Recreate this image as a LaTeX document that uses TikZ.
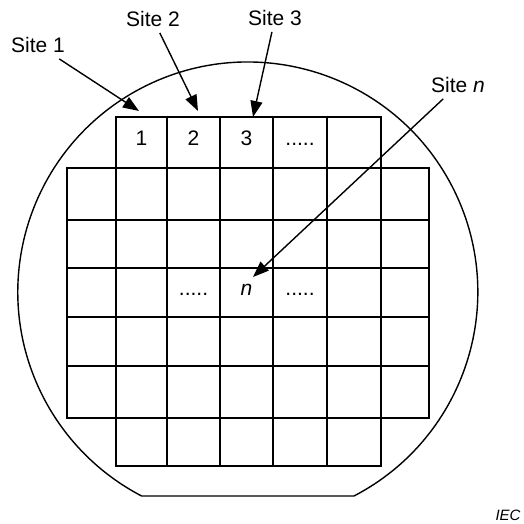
\documentclass[tikz,border=0pt]{standalone}
\usepackage{fontspec}
\setmainfont{Liberation Sans}
\usepackage{tikz}
\usetikzlibrary{arrows.meta}

\begin{document}
\begin{tikzpicture}[x=1pt,y=1pt,
  wafer/.style={line width=1.4pt},
  cell/.style={line width=1.6pt},
  sitelabel/.style={inner sep=6pt,font=\fontsize{21}{25}\selectfont},
  celltext/.style={anchor=base,inner sep=0pt,font=\fontsize{21}{25}\selectfont},
  pointer/.style={line width=1.4pt,-{Triangle[length=16pt,width=12pt]}}]
\useasboundingbox (0,0) rectangle (523,524);

% wafer outline with the flat at the bottom
\draw[wafer] (354,28) arc[start angle=-62.5,end angle=242.5,radius=230] -- cycle;

% die grid
\draw[cell] (116,356) rectangle (381,407);
\draw[cell] (67,106) rectangle (429,356);
\draw[cell] (116,58) rectangle (381,106);
\draw[cell] (67,304) -- (429,304) (67,256) -- (429,256) (67,207) -- (429,207) (67,158) -- (429,158);
\draw[cell] (116,106) -- (116,356) (381,106) -- (381,356);
\draw[cell] (167,58) -- (167,407) (220,58) -- (220,407) (273,58) -- (273,407) (327,58) -- (327,407);

\node[celltext] (c1) at (141.5,378) {1};
\node[celltext] (c2) at (193.5,378) {2};
\node[celltext] (c3) at (246.5,378) {3};
\node[celltext] (cdots) at (300,378) {.....};
\node[celltext] (ldots) at (193.5,228) {.....};
\node[celltext] (cn) at (246.5,228) {\textit{n}};
\node[celltext] (rdots) at (300,228) {.....};

\node[sitelabel] (s1) at (38,479) {Site 1};
\node[sitelabel] (s2) at (153,505) {Site 2};
\node[sitelabel] (s3) at (275,506) {Site 3};
\node[sitelabel] (sn) at (458,439) {Site \textit{n}};
\node[font=\fontsize{15}{18}\selectfont\itshape] (iec) at (508,9) {IEC};

\coordinate (t1) at (139,413);
\coordinate (t2) at (198,413);
\coordinate (t3) at (253,407);
\coordinate (tn) at (253,247);

\draw[pointer] (s1) -- (t1);
\draw[pointer] (s2) -- (t2);
\draw[pointer] (s3) -- (t3);
\draw[pointer] (sn) -- (tn);
\end{tikzpicture}
\end{document}
